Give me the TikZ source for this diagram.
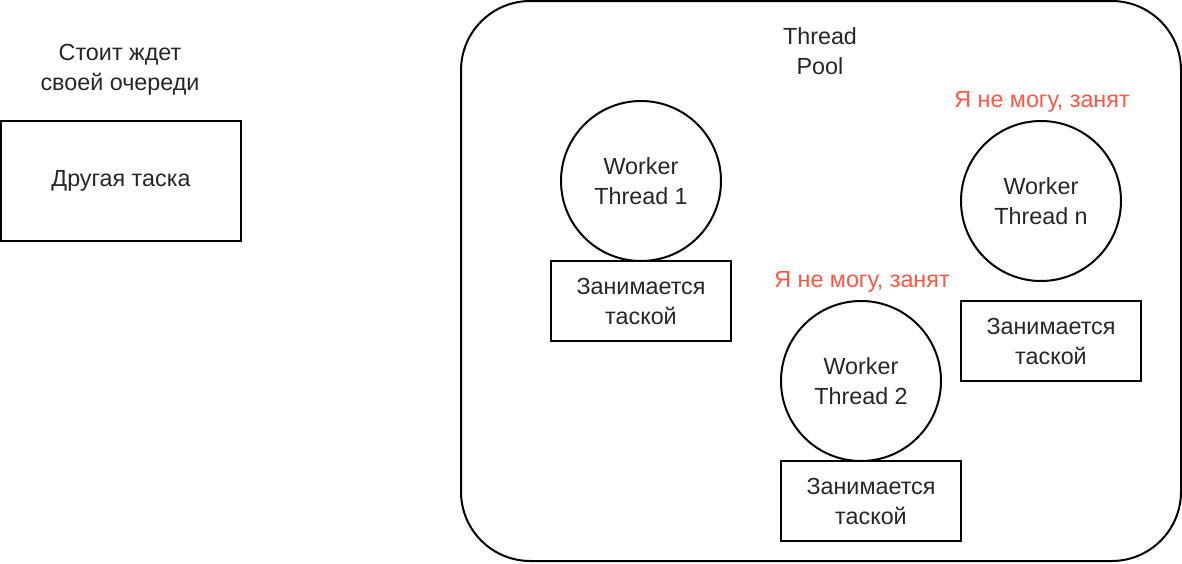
\documentclass[tikz,border=0pt]{standalone}
\usepackage{fontspec}
\setmainfont{Liberation Sans}
\definecolor{busyred}{RGB}{255,85,69}
\begin{document}
\begin{tikzpicture}[x=0.75pt,y=-0.75pt,
  every node/.style={font=\fontsize{17.5pt}{22.5pt}\selectfont, align=center, text=black!85},
  worker/.style={draw,circle,line width=1.5pt,minimum size=120pt,inner sep=0pt},
  taskbox/.style={draw,rectangle,line width=1.5pt,minimum width=135pt,minimum height=60pt,inner sep=0pt},
  busy/.style={text=busyred}]
\useasboundingbox (0,0) rectangle (1182,564);
\node[draw,rounded corners=52pt,line width=1.5pt,minimum width=540pt,minimum height=420pt] (pool) at (821,281) {};
\node (pooltitle) at (820,51) {Thread\\Pool};
\node[draw,rectangle,line width=1.5pt,minimum width=180pt,minimum height=90pt] (other) at (121,181) {Другая таска};
\node (waits) at (120,70) {Стоит ждет\\своей очереди};
\node[worker] (W1) at (641,181) {Worker\\Thread 1};
\node[taskbox] (T1) at (641,301) {Занимается\\таской};
\node[worker] (W2) at (861,381) {Worker\\Thread 2};
\node[taskbox] (T2) at (871,501) {Занимается\\таской};
\node[busy] (B2) at (862,282) {Я не могу, занят};
\node[worker] (Wn) at (1041,201) {Worker\\Thread n};
\node[taskbox] (Tn) at (1051,341) {Занимается\\таской};
\node[busy] (Bn) at (1042,102) {Я не могу, занят};
\end{tikzpicture}
\end{document}
